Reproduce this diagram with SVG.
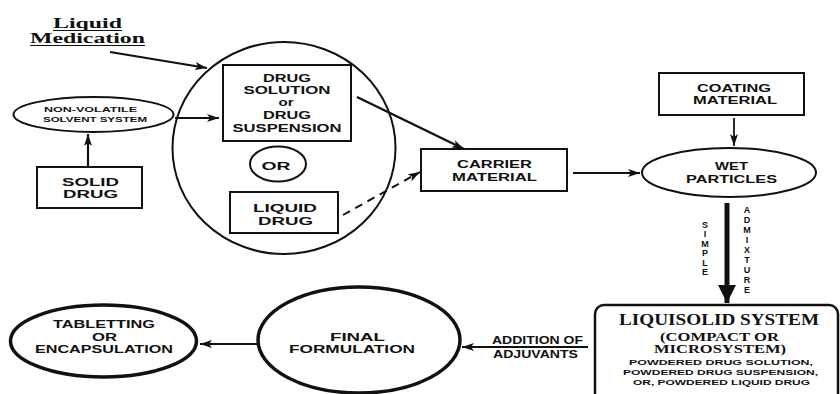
<svg xmlns="http://www.w3.org/2000/svg" width="840" height="394" viewBox="0 0 840 394">
<defs>
<style>
.bg{fill:#fff}
.n{fill:none;stroke:#111;stroke-width:2}
.thick{fill:none;stroke:#111;stroke-width:3.5}
.t{font-family:"Liberation Sans",Arial,sans-serif;font-weight:bold;font-size:11px;fill:#111;text-anchor:middle}
.s{font-family:"Liberation Sans",Arial,sans-serif;font-weight:bold;font-size:8px;fill:#111;text-anchor:middle}
.v{font-family:"Liberation Sans",Arial,sans-serif;font-weight:bold;font-size:9px;fill:#111;text-anchor:middle}
.sf{font-family:"Liberation Serif","Times New Roman",serif;font-weight:bold;fill:#111;text-anchor:middle}
</style>
<marker id="ah" viewBox="0 0 12 8" refX="12" refY="4" markerWidth="12" markerHeight="8" markerUnits="userSpaceOnUse" orient="auto">
<path d="M0,0 L12,4 L0,8 L3,4 Z" fill="#111"/>
</marker>
<marker id="ahb" viewBox="0 0 22 20" refX="20" refY="10" markerWidth="20" markerHeight="22" markerUnits="userSpaceOnUse" orient="auto">
<path d="M0,0 L20,10 L0,20 Z" fill="#111"/>
</marker>
</defs>
<rect class="bg" x="0" y="0" width="840" height="394"/>

<g id="liquid-medication">
<text class="sf" x="87.5" y="28" font-size="14.5" textLength="69" lengthAdjust="spacingAndGlyphs">Liquid</text>
<line x1="53" y1="30.5" x2="122" y2="30.5" stroke="#111" stroke-width="1.2"/>
<text class="sf" x="87.5" y="43" font-size="14.5" textLength="115" lengthAdjust="spacingAndGlyphs">Medication</text>
<line x1="30" y1="45.5" x2="145" y2="45.5" stroke="#111" stroke-width="1.2"/>
</g>

<g id="big-circle">
<ellipse class="n" cx="284" cy="148" rx="111.5" ry="106"/>
</g>

<g id="drug-solution">
<rect class="n" x="223" y="65" width="128" height="76"/>
<text class="t" x="287" y="82" textLength="48" lengthAdjust="spacingAndGlyphs">DRUG</text>
<text class="t" x="287" y="94" textLength="87" lengthAdjust="spacingAndGlyphs">SOLUTION</text>
<text class="t" x="286" y="106" textLength="15" lengthAdjust="spacingAndGlyphs">or</text>
<text class="t" x="287" y="118.5" textLength="48" lengthAdjust="spacingAndGlyphs">DRUG</text>
<text class="t" x="287" y="131.5" textLength="109" lengthAdjust="spacingAndGlyphs">SUSPENSION</text>
</g>

<g id="or">
<ellipse class="n" cx="278" cy="164" rx="28" ry="17.5"/>
<text class="t" x="276" y="169.5" font-size="12" textLength="29" lengthAdjust="spacingAndGlyphs">OR</text>
</g>

<g id="liquid-drug">
<rect class="n" x="230" y="192" width="108" height="41"/>
<text class="t" x="285" y="212" textLength="64" lengthAdjust="spacingAndGlyphs">LIQUID</text>
<text class="t" x="285.5" y="225" textLength="55" lengthAdjust="spacingAndGlyphs">DRUG</text>
</g>

<g id="non-volatile">
<ellipse class="n" cx="93.5" cy="114.5" rx="80" ry="17.5"/>
<text class="s" x="90.5" y="112" textLength="93" lengthAdjust="spacingAndGlyphs">NON-VOLATILE</text>
<text class="s" x="95" y="122" textLength="104" lengthAdjust="spacingAndGlyphs">SOLVENT SYSTEM</text>
</g>

<g id="solid-drug">
<rect class="n" x="37" y="167" width="105" height="41"/>
<text class="t" x="90.5" y="186" textLength="57" lengthAdjust="spacingAndGlyphs">SOLID</text>
<text class="t" x="90.5" y="197.5" textLength="55" lengthAdjust="spacingAndGlyphs">DRUG</text>
</g>

<g id="carrier-material">
<rect class="n" x="421" y="149" width="146" height="42"/>
<text class="t" x="494.5" y="168" textLength="75" lengthAdjust="spacingAndGlyphs">CARRIER</text>
<text class="t" x="494.5" y="181" textLength="85" lengthAdjust="spacingAndGlyphs">MATERIAL</text>
</g>

<g id="coating-material">
<rect class="n" x="659" y="73" width="145" height="42"/>
<text class="t" x="734" y="92" textLength="74" lengthAdjust="spacingAndGlyphs">COATING</text>
<text class="t" x="735" y="104" textLength="84" lengthAdjust="spacingAndGlyphs">MATERIAL</text>
</g>

<g id="wet-particles">
<ellipse class="n" cx="729" cy="172.5" rx="87" ry="24.5"/>
<text class="t" x="731.5" y="170" textLength="33" lengthAdjust="spacingAndGlyphs">WET</text>
<text class="t" x="731.5" y="182.5" textLength="91" lengthAdjust="spacingAndGlyphs">PARTICLES</text>
</g>

<g id="liquisolid-system">
<rect x="595" y="305" width="243" height="110" rx="9" fill="none" stroke="#111" stroke-width="2.5"/>
<text class="sf" x="719" y="325" font-size="16" textLength="200" lengthAdjust="spacingAndGlyphs">LIQUISOLID SYSTEM</text>
<text class="sf" x="719.5" y="341" font-size="11.5" textLength="119" lengthAdjust="spacingAndGlyphs">(COMPACT OR</text>
<text class="sf" x="720" y="352.5" font-size="11.5" textLength="132" lengthAdjust="spacingAndGlyphs">MICROSYSTEM)</text>
<text class="s" x="721" y="364.5" textLength="184" lengthAdjust="spacingAndGlyphs">POWDERED DRUG SOLUTION,</text>
<text class="s" x="720.5" y="374.5" textLength="195" lengthAdjust="spacingAndGlyphs">POWDERED DRUG SUSPENSION,</text>
<text class="s" x="721.5" y="385" textLength="177" lengthAdjust="spacingAndGlyphs">OR, POWDERED LIQUID DRUG</text>
</g>

<g id="final-formulation">
<ellipse class="thick" cx="359" cy="340" rx="101" ry="53"/>
<text class="t" x="357.5" y="340.5" font-size="12" textLength="55" lengthAdjust="spacingAndGlyphs">FINAL</text>
<text class="t" x="352" y="353" font-size="12" textLength="126" lengthAdjust="spacingAndGlyphs">FORMULATION</text>
</g>

<g id="tabletting">
<ellipse class="thick" cx="103.5" cy="341" rx="93" ry="36"/>
<text class="t" x="104" y="328" textLength="102" lengthAdjust="spacingAndGlyphs">TABLETTING</text>
<text class="t" x="104.5" y="340.5" textLength="25" lengthAdjust="spacingAndGlyphs">OR</text>
<text class="t" x="104" y="353" textLength="138" lengthAdjust="spacingAndGlyphs">ENCAPSULATION</text>
</g>

<g id="connectors" stroke="#111" fill="none">
<line x1="110" y1="52" x2="207" y2="68" stroke-width="2" marker-end="url(#ah)"/>
<line x1="175" y1="118" x2="219" y2="118" stroke-width="1.8" marker-end="url(#ah)"/>
<line x1="88" y1="166" x2="88" y2="134" stroke-width="2.2" marker-end="url(#ah)"/>
<line x1="357" y1="97" x2="464" y2="149" stroke-width="2.4" marker-end="url(#ah)"/>
<line x1="343" y1="215" x2="420" y2="172" stroke-width="2" stroke-dasharray="8,6" marker-end="url(#ah)"/>
<line x1="573" y1="173" x2="640" y2="173" stroke-width="1.8" marker-end="url(#ah)"/>
<line x1="734" y1="118" x2="734" y2="146" stroke-width="1.8" marker-end="url(#ah)"/>
<line x1="727" y1="203" x2="727" y2="303" stroke-width="5" marker-end="url(#ahb)"/>
<line x1="588" y1="347" x2="462" y2="347" stroke-width="2" marker-end="url(#ah)"/>
<line x1="258" y1="344" x2="200" y2="344" stroke-width="2" marker-end="url(#ah)"/>
</g>

<g id="labels">
<text class="v" x="705" y="228">S</text>
<text class="v" x="705" y="237.4">I</text>
<text class="v" x="705" y="246.8">M</text>
<text class="v" x="705" y="256.2">P</text>
<text class="v" x="705" y="265.6">L</text>
<text class="v" x="705" y="275">E</text>
<text class="v" x="747" y="213">A</text>
<text class="v" x="747" y="223">D</text>
<text class="v" x="747" y="233">M</text>
<text class="v" x="747" y="243">I</text>
<text class="v" x="747" y="253">X</text>
<text class="v" x="747" y="263">T</text>
<text class="v" x="747" y="273">U</text>
<text class="v" x="747" y="283">R</text>
<text class="v" x="747" y="293">E</text>
<text class="t" x="537.5" y="344" font-size="10.5" textLength="91" lengthAdjust="spacingAndGlyphs">ADDITION OF</text>
<text class="t" x="535.5" y="357.5" font-size="10.5" textLength="85" lengthAdjust="spacingAndGlyphs">ADJUVANTS</text>
</g>
</svg>
